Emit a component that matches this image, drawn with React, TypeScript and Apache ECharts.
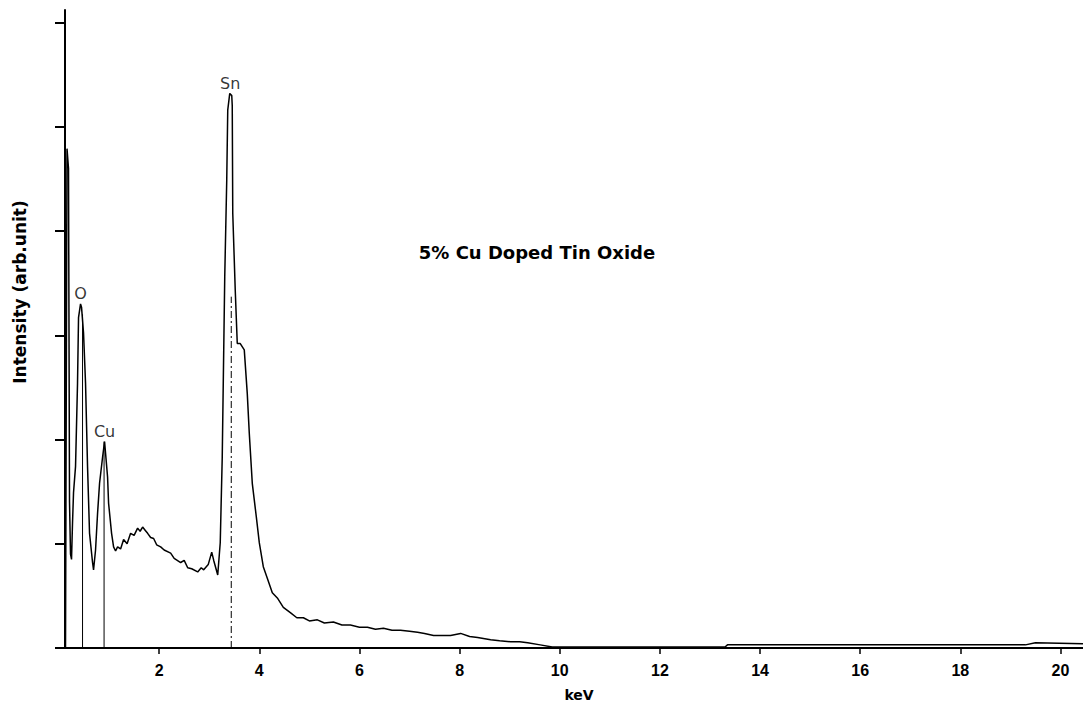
import { useEffect, useRef } from "react";
import * as echarts from "echarts";

const energyKeV = [
  0.13, 0.16, 0.19, 0.21, 0.23, 0.25, 0.27, 0.29, 0.33, 0.37, 0.39, 0.43, 0.45, 0.49, 0.53, 0.57, 0.61,
  0.67, 0.69, 0.73, 0.77, 0.81, 0.87, 0.91, 0.97, 0.99, 1.05, 1.09, 1.13, 1.17, 1.23, 1.29, 1.36, 1.43,
  1.5, 1.57, 1.62, 1.67, 1.72, 1.77, 1.83, 1.89, 1.95, 2.03, 2.1, 2.23, 2.3, 2.43, 2.5, 2.57, 2.65, 2.77,
  2.84, 2.89, 2.98, 3.05, 3.09, 3.17, 3.22, 3.26, 3.31, 3.35, 3.37, 3.41,
  3.45, 3.46, 3.47, 3.52, 3.56, 3.62, 3.7, 3.76, 3.8, 3.86, 3.94, 4.0, 4.08, 4.16, 4.26, 4.36, 4.48,
  4.62, 4.75, 4.88, 5.0, 5.16, 5.3, 5.48, 5.65, 5.82, 6.0, 6.16, 6.32, 6.48, 6.65, 6.82, 7.0, 7.16, 7.3,
  7.48, 7.65, 7.82, 8.02, 8.2, 8.36, 8.62, 8.8, 9.02, 9.2, 9.36, 9.61,
  9.85, 10.5, 13.3, 13.35, 19.3, 19.5, 20.45,
];
const intensity = [
  0, 4.79, 4.6, 1.4, 0.9, 0.85, 1.2, 1.49, 1.74, 2.54, 3.17, 3.3, 3.27, 3.02, 2.54, 1.74, 1.1,
  0.82, 0.75, 0.94, 1.29, 1.58, 1.83, 1.98, 1.64, 1.39, 1.1, 0.97, 0.93, 0.97, 0.95, 1.04, 1.0, 1.1,
  1.08, 1.15, 1.12, 1.16, 1.13, 1.1, 1.06, 1.05, 0.99, 0.97, 0.94, 0.91, 0.86, 0.82, 0.84, 0.77, 0.76, 0.73,
  0.77, 0.75, 0.8, 0.92, 0.84, 0.7, 1.01, 1.83, 3.56, 4.49, 5.16, 5.32,
  5.3, 5.2, 4.17, 3.43, 2.92, 2.92, 2.86, 2.44, 2.06, 1.58, 1.26, 1.01, 0.78, 0.67, 0.53, 0.48, 0.39,
  0.34, 0.29, 0.29, 0.26, 0.27, 0.24, 0.25, 0.22, 0.22, 0.2, 0.2, 0.18, 0.19, 0.17, 0.17, 0.16, 0.15, 0.14,
  0.12, 0.12, 0.12, 0.14, 0.11, 0.1, 0.08, 0.07, 0.06, 0.06, 0.05, 0.03,
  0.01, 0.01, 0.01, 0.03, 0.03, 0.05, 0.04,
];

const xTickValues = [2, 4, 6, 8, 10, 12, 14, 16, 18, 20];
const yTickValues = [0, 1, 2, 3, 4, 5, 6];

const peakNames = ["O", "Cu", "Sn"];
const peakKeV = [0.43, 0.91, 3.42];
const peakIntensity = [3.3, 1.98, 5.32];
const markerKeV = [0.47, 0.9, 3.44];
const markerTop = [3.2, 1.98, 3.37];

const chartTitle = "5% Cu Doped Tin Oxide";
const xAxisName = "keV";
const yAxisName = "Intensity (arb.unit)";

export default function App() {
  const ref = useRef<HTMLDivElement>(null);

  useEffect(() => {
    const chart = echarts.init(ref.current as HTMLDivElement, null, { renderer: "svg" });
    const spectrum = energyKeV.map((e, i) => [e, intensity[i]]);
    const markerSeries = markerKeV.map((k, i) => ({
      type: "line",
      data: [
        [k, 0],
        [k, markerTop[i]],
      ],
      symbol: "none",
      silent: true,
      z: 1,
      lineStyle: { color: "#000", width: 1, type: i === 2 ? [7, 3, 2, 3] : "solid" },
    }));

    chart.setOption({
      animation: false,
      backgroundColor: "#fff",
      color: ["#000"],
      grid: { left: 59, right: 0, top: 10, bottom: 64, outerBoundsMode: "none" },
      xAxis: {
        type: "value",
        min: 0,
        max: 20.45,
        name: xAxisName,
        nameLocation: "middle",
        nameGap: 40,
        nameTextStyle: {
          fontFamily: "DejaVu Sans",
          fontWeight: "bold",
          fontSize: 14,
          color: "#000",
          padding: [0, 0, 0, 16],
        },
        axisLine: { onZero: false, lineStyle: { color: "#000", width: 2 } },
        axisTick: { customValues: xTickValues, length: 6, lineStyle: { color: "#000", width: 1.5 } },
        axisLabel: {
          customValues: xTickValues,
          margin: 14,
          fontFamily: "Liberation Sans",
          fontWeight: "bold",
          fontSize: 16,
          color: "#000",
        },
        splitLine: { show: false },
      },
      yAxis: {
        type: "value",
        min: 0,
        max: 6.12,
        offset: -6,
        axisLine: { show: true, onZero: false, lineStyle: { color: "#000", width: 2 } },
        axisTick: {
          show: true,
          customValues: yTickValues,
          length: 10,
          lineStyle: { color: "#000", width: 2 },
        },
        axisLabel: { show: false },
        splitLine: { show: false },
      },
      graphic: [
        {
          type: "text",
          x: 537,
          y: 252,
          style: {
            text: chartTitle,
            fontFamily: "DejaVu Sans",
            fontWeight: "bold",
            fontSize: 18,
            fill: "#000",
            align: "center",
            verticalAlign: "middle",
          },
        },
        {
          type: "text",
          x: 20,
          y: 292,
          rotation: Math.PI / 2,
          style: {
            text: yAxisName,
            fontFamily: "DejaVu Sans",
            fontWeight: "bold",
            fontSize: 17,
            fill: "#000",
            align: "center",
            verticalAlign: "middle",
          },
        },
      ],
      series: [
        ...markerSeries,
        {
          type: "line",
          data: spectrum,
          symbol: "none",
          silent: true,
          z: 2,
          lineStyle: { color: "#000", width: 1.5 },
        },
        {
          type: "scatter",
          data: peakKeV.map((k, i) => ({ value: [k, peakIntensity[i]], name: peakNames[i] })),
          symbolSize: 0,
          silent: true,
          itemStyle: { color: "#000" },
          label: {
            show: true,
            position: "top",
            distance: 2,
            formatter: (p: any) => p.name,
            fontFamily: "DejaVu Sans",
            fontSize: 16,
            color: "#000",
          },
        },
      ],
    });
    return () => chart.dispose();
  }, []);

  return (
    <div
      ref={ref}
      style={{ position: "absolute", left: 0, top: 0, width: 1083, height: 712 }}
    />
  );
}
